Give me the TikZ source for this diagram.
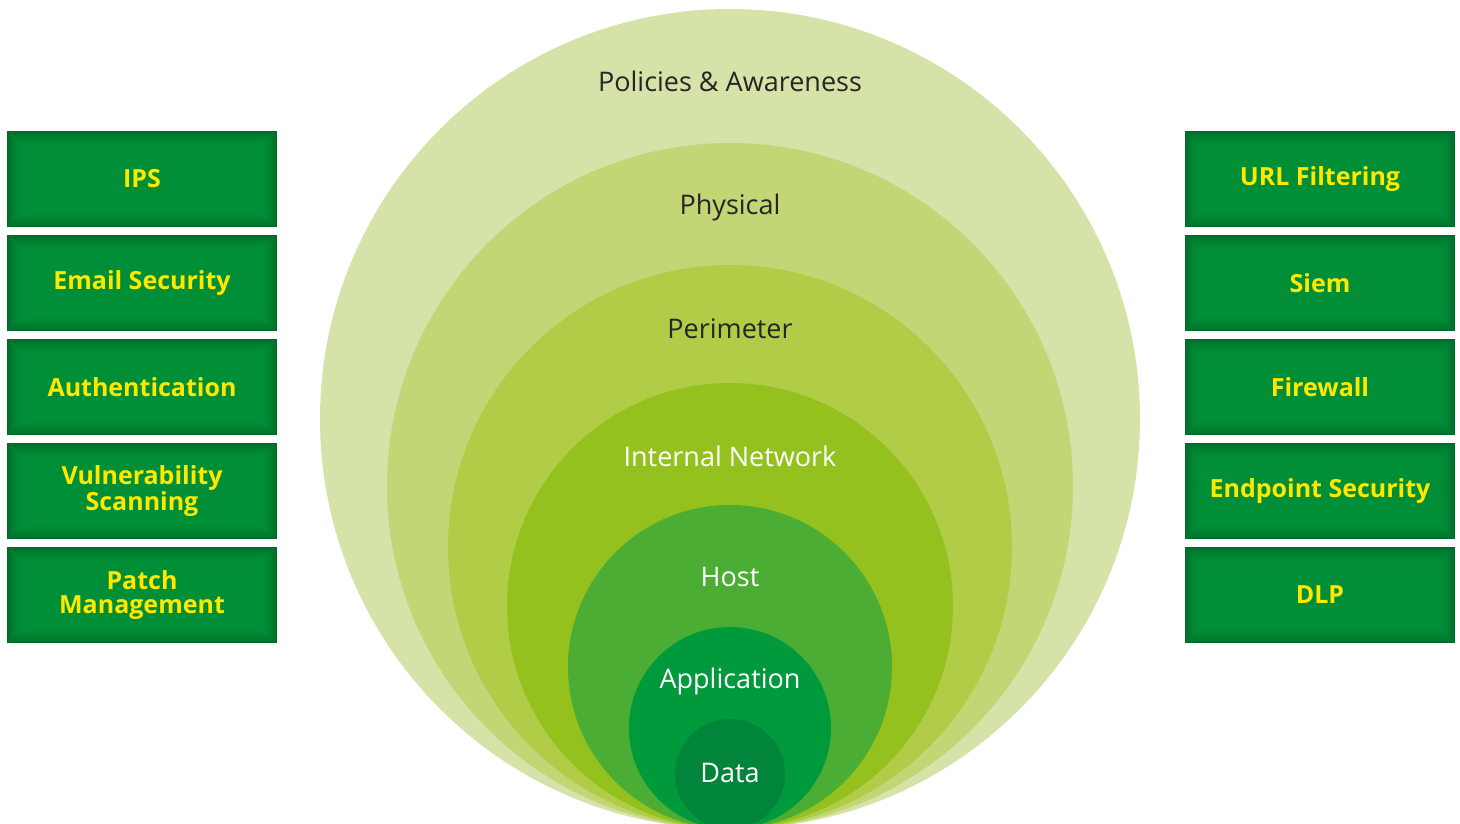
\documentclass[tikz,border=0pt]{standalone}
\usepackage{fontspec}
\setmainfont{Open Sans}
\usepackage{tikz}
\usepackage{xcolor}

\definecolor{ringA}{HTML}{D5E3A8}
\definecolor{ringB}{HTML}{C2D676}
\definecolor{ringC}{HTML}{B1CD48}
\definecolor{ringD}{HTML}{95C11F}
\definecolor{ringE}{HTML}{4BAD33}
\definecolor{ringF}{HTML}{009A3D}
\definecolor{ringG}{HTML}{00853A}
\definecolor{boxgreen}{HTML}{008E37}
\definecolor{boxedge}{HTML}{004A1C}
\definecolor{boxtext}{HTML}{FFE800}
\definecolor{darktext}{HTML}{262626}

\begin{document}
\begin{tikzpicture}[x=1pt, y=-1pt]
            % Define styles
            \tikzstyle{ring} = [circle, inner sep=0pt, draw=none]
            \tikzstyle{ringlabel} = [font=\fontsize{27}{30}\selectfont, inner sep=0pt]
            \tikzstyle{tool} = [rectangle, minimum width=270pt, minimum height=96pt, inner sep=0pt, fill=boxgreen, text=boxtext, align=center, font=\bfseries\fontsize{25}{24}\selectfont,
                path picture={\foreach \i in {1,...,16} \draw[boxedge, opacity=0.5*((17-\i)/16)^2, line width=1pt]
                    ([shift={(\i pt-0.5pt,\i pt-0.5pt)}]path picture bounding box.south west) rectangle ([shift={(-\i pt+0.5pt,-\i pt+0.5pt)}]path picture bounding box.north east);}]
            
            \useasboundingbox (0,0) rectangle (1460,824);
            
            % Nested rings, all touching at the bottom
            \node (policies) [ring, fill=ringA, minimum size=820pt] at (730,419) {};
            \node (physical) [ring, fill=ringB, minimum size=686pt] at (730,486) {};
            \node (perimeter) [ring, fill=ringC, minimum size=564pt] at (730,547) {};
            \node (network) [ring, fill=ringD, minimum size=446pt] at (730,606) {};
            \node (host) [ring, fill=ringE, minimum size=324pt] at (730,667) {};
            \node (application) [ring, fill=ringF, minimum size=202pt] at (730,728) {};
            \node (data) [ring, fill=ringG, minimum size=110pt] at (730,774) {};
            
            % Ring labels
            \node (policiestext) [ringlabel, text=darktext] at (730,81) {Policies \& Awareness};
            \node (physicaltext) [ringlabel, text=darktext] at (730,207) {Physical};
            \node (perimetertext) [ringlabel, text=darktext] at (730,329) {Perimeter};
            \node (networktext) [ringlabel, text=white] at (730,456) {Internal Network};
            \node (hosttext) [ringlabel, text=white] at (730,577) {Host};
            \node (applicationtext) [ringlabel, text=white] at (730,681) {Application};
            \node (datatext) [ringlabel, text=white] at (730,773) {Data};
            
            % Left column
            \node (ips) [tool] at (142,179) {IPS};
            \node (email) [tool] at (142,283) {Email Security};
            \node (auth) [tool] at (142,387) {Authentication};
            \node (vuln) [tool] at (142,491) {Vulnerability\\Scanning};
            \node (patch) [tool] at (142,595) {Patch\\Management};
            
            % Right column
            \node (url) [tool] at (1320,179) {URL Filtering};
            \node (siem) [tool] at (1320,283) {Siem};
            \node (firewall) [tool] at (1320,387) {Firewall};
            \node (endpoint) [tool] at (1320,491) {Endpoint Security};
            \node (dlp) [tool] at (1320,595) {DLP};
        \end{tikzpicture}
\end{document}
